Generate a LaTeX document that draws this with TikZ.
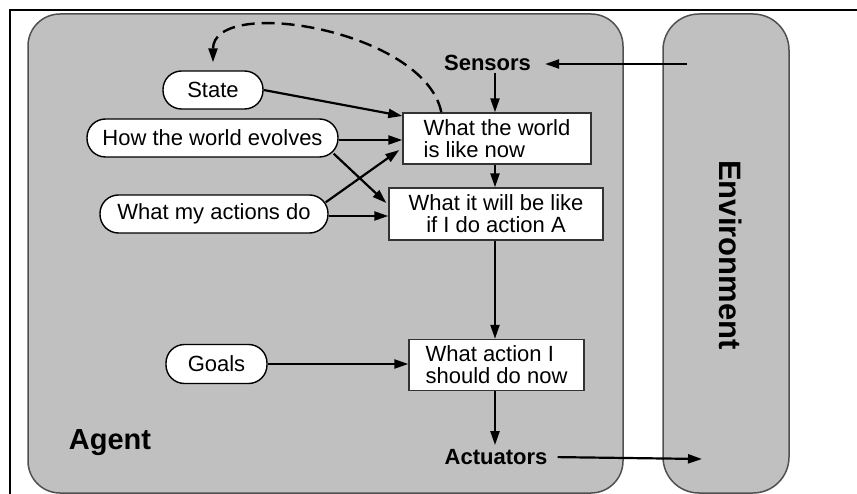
\documentclass[tikz,border=0pt]{standalone}
\usepackage{fontspec}
\setmainfont{Liberation Sans}
\usetikzlibrary{arrows.meta,calc}
\definecolor{panel}{RGB}{192,192,192}
\definecolor{rim}{RGB}{80,80,80}
\begin{document}
\begin{tikzpicture}[x=1pt,y=-1pt,
  txt/.style={font=\fontsize{22}{22}\selectfont},
  pill/.style={txt,draw=black,line width=1.4pt,fill=white,rounded corners=18.5pt,
    minimum height=38pt,inner sep=0pt},
  panelbox/.style={txt,draw=black!80,line width=1.4pt,fill=white,inner sep=0pt,
    minimum height=51pt},
  label/.style={font=\fontsize{22}{22}\selectfont\bfseries,inner sep=2pt},
  tip/.style={-{Triangle[length=14pt,width=9pt]}},
  arr/.style={line width=2.2pt,tip},
  region/.style={draw=rim,line width=1.5pt,fill=panel}]
\useasboundingbox (0,0) rectangle (857,494);

% outer frame (top and left edges)
\draw[line width=2.6pt] (9,10) -- (857,10);
\draw[line width=2.6pt] (10,9) -- (10,494);

% agent and environment regions
\draw[region,rounded corners=32pt] (28,14) rectangle (623,493);
\draw[region,rounded corners=36pt] (663,14) rectangle (789,493);

\node[font=\fontsize{29}{30}\selectfont\bfseries] (agent) at (110,443) {Agent};
\node[font=\fontsize{31}{32}\selectfont\bfseries,rotate=-90] (env) at (731,255) {Environment};

% knowledge nodes
\node[pill,minimum width=100pt] (state) at (213,90) {State};
\node[pill,minimum width=251pt] (how) at (212.5,138) {How the world evolves};
\node[pill,minimum width=228pt] (acts) at (214,214) {What my actions do};
\node[pill,minimum width=101pt,minimum height=39pt] (goals) at (216.5,364) {Goals};

% processing boxes
\node[panelbox,minimum width=188pt,align=left] (now) at (497,138.5) {What the world\\is like now};
\node[panelbox,minimum width=214pt,minimum height=52pt,align=center] (will) at (496,214) {What it will be like\\if I do action A};
\node[panelbox,minimum width=175pt,align=left] (act) at (496.5,365) {What action I\\should do now};

\node[label] (sens) at (487.5,63) {Sensors};
\node[label] (actu) at (496,457) {Actuators};

\coordinate (envin) at (687,64);
\coordinate (envout) at (702,459);

% percept and action flow
\draw[arr,shorten >=12pt] (envin) -- (envin -| sens.east);
\draw[arr] (sens.south -| 495,0) -- (now.north -| 495,0);
\draw[arr] (now.south -| 495,0) -- (will.north -| 495,0);
\draw[arr] (will.south -| 495,0) -- (act.north -| 495,0);
\draw[arr,shorten >=2pt] (act.south -| 495,0) -- (actu.north -| 495,0);
\draw[arr,shorten <=8pt] (actu.east) -- (envout);

% internal model inputs
\draw[arr] (state.east) -- ($(now.west)+(0,-22.5)$);
\draw[arr] (how.east |- 0,140) -- (now.west |- 0,140);
\draw[arr] ($(how.south east)+(-5,-4)$) -- ($(will.west)+(-2,-11)$);
\draw[arr] ($(acts.north east)+(-3,8)$) -- ($(now.west)+(-3,11.5)$);
\draw[arr] (acts.east |- 0,216) -- (will.west |- 0,216);
\draw[arr] (goals.east) -- (goals.east -| act.west);

% state update
\draw[line width=2.4pt,dash pattern=on 13pt off 7pt,tip,shorten >=8pt]
  ($(now.north west)+(39,0)$) .. controls (425,30) and (213,-5) .. (state.north);
\end{tikzpicture}
\end{document}
